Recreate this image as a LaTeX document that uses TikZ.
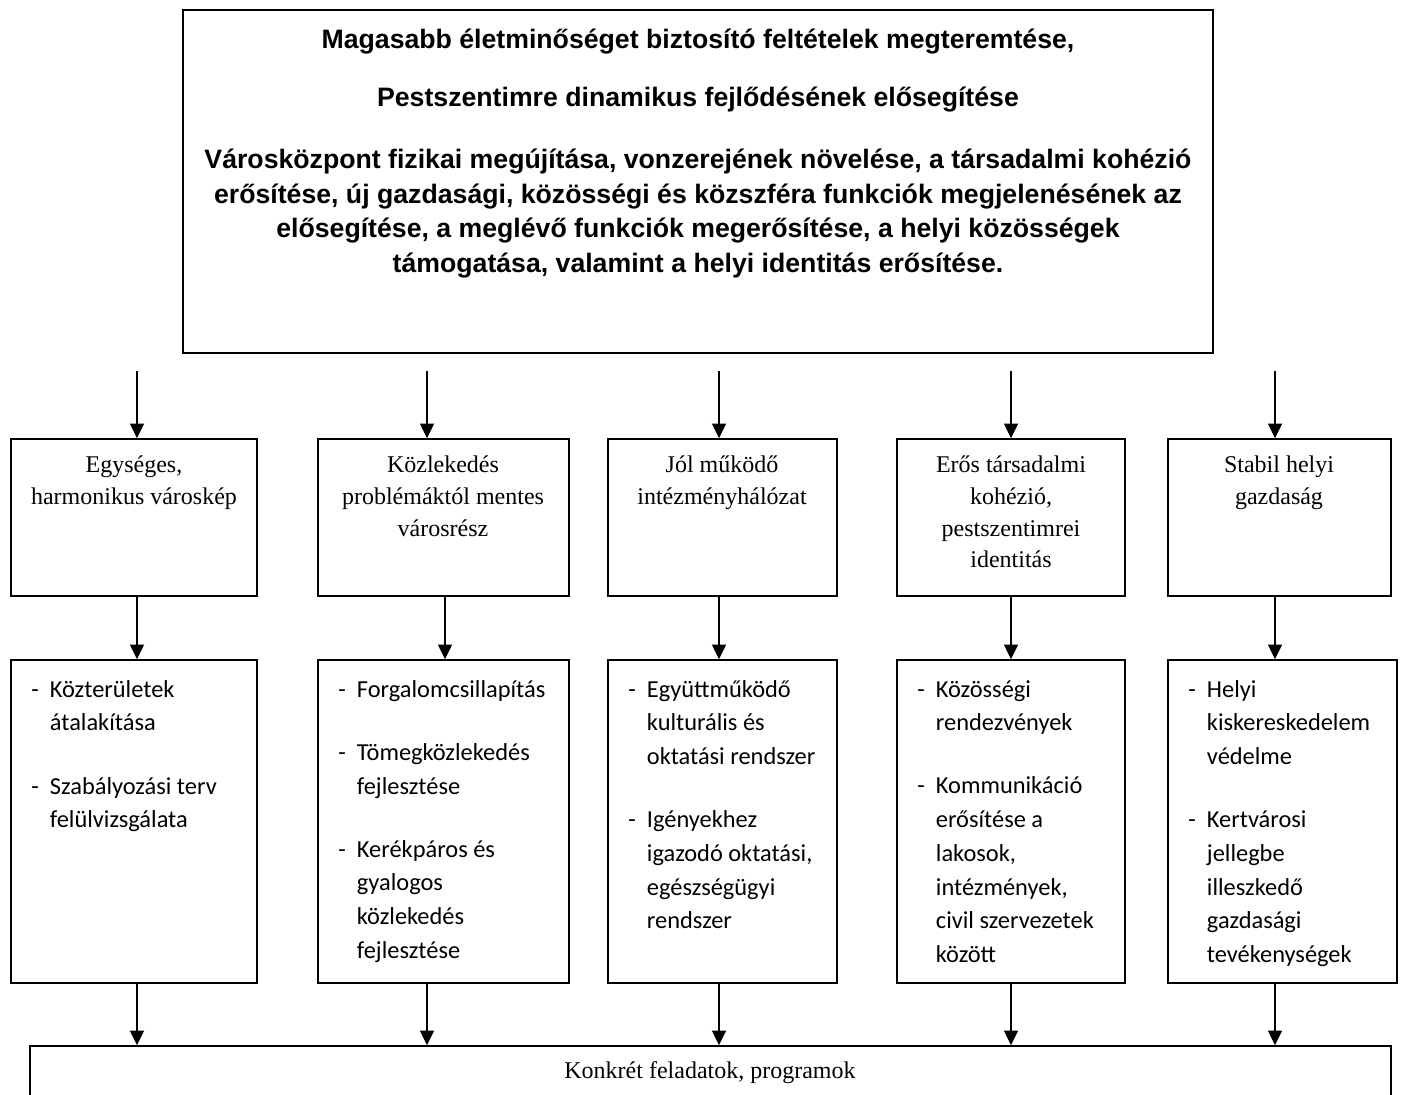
\documentclass[tikz,border=0pt]{standalone}
\usepackage{fontspec}
\setmainfont{Liberation Serif}
\newfontfamily\arialfont{Liberation Sans}
\newfontfamily\califont{Carlito}
\usetikzlibrary{arrows.meta,fit}
\newcommand\itmdash{\makebox[14pt][l]{-}}
\newcommand\itmind{\hspace*{14pt}}
\begin{document}
\begin{tikzpicture}[x=0.75pt,y=-0.75pt,
  box/.style={draw, line width=1.2pt, inner sep=0pt},
  arr/.style={line width=1.2pt, -{Triangle[width=10.5pt,length=11pt]}},
  ttl/.style={font=\arialfont\bfseries\fontsize{20}{25.8}\selectfont, align=center, inner sep=0pt},
  utext/.style={font=\fontsize{18}{23.7}\selectfont, align=center, inner sep=0pt},
  ltext/.style={font=\califont\fontsize{18.3}{25.3}\selectfont, align=left, inner sep=0pt},
]
\clip (0,0) rectangle (1403,1095);
% boxes
\node[box, fit={(183,10)(1213,353)}] (top) {};
\node[box, fit={(11,439)(257,596)}] (u1) {};
\node[box, fit={(318,439)(569,596)}] (u2) {};
\node[box, fit={(608,439)(837,596)}] (u3) {};
\node[box, fit={(897,439)(1125,596)}] (u4) {};
\node[box, fit={(1168,439)(1391,596)}] (u5) {};
\node[box, fit={(11,660)(257,983)}] (l1) {};
\node[box, fit={(318,660)(569,983)}] (l2) {};
\node[box, fit={(608,660)(837,983)}] (l3) {};
\node[box, fit={(897,660)(1125,983)}] (l4) {};
\node[box, fit={(1168,660)(1397,983)}] (l5) {};
\node[box, fit={(30,1046)(1391,1140)}] (bot) {};
% title text
\node[ttl, anchor=base] (t1) at (698,49) {Magasabb életminőséget biztosító feltételek megteremtése,};
\node[ttl, anchor=base] (t2) at (698,107) {Pestszentimre dinamikus fejlődésének elősegítése};
\node[ttl, anchor=north] (t3) at (698,149) {Városközpont fizikai megújítása, vonzerejének növelése, a társadalmi kohézió\\
erősítése, új gazdasági, közösségi és közszféra funkciók megjelenésének az\\
elősegítése, a meglévő funkciók megerősítése, a helyi közösségek\\
támogatása, valamint a helyi identitás erősítése.};
% upper texts
\node[utext, anchor=north] (u1t) at (134,456) {Egységes,\\harmonikus városkép};
\node[utext, anchor=north] (u2t) at (443,456) {Közlekedés\\problémáktól mentes\\városrész};
\node[utext, anchor=north] (u3t) at (722,456) {Jól működő\\intézményhálózat};
\node[utext, anchor=north] (u4t) at (1011,456) {Erős társadalmi\\kohézió,\\pestszentimrei\\identitás};
\node[utext, anchor=north] (u5t) at (1279,456) {Stabil helyi\\gazdaság};
% lower texts
\node[ltext, anchor=north west] (l1t) at (31,680) {\itmdash Közterületek\\ \itmind átalakítása\\[22pt]
\itmdash Szabályozási terv\\ \itmind felülvizsgálata};
\node[ltext, anchor=north west] (l2t) at (338,680) {\itmdash Forgalomcsillapítás\\[22pt]
\itmdash Tömegközlekedés\\ \itmind fejlesztése\\[22pt]
\itmdash Kerékpáros és\\ \itmind gyalogos\\ \itmind közlekedés\\ \itmind fejlesztése};
\node[ltext, anchor=north west] (l3t) at (628,680) {\itmdash Együttműködő\\ \itmind kulturális és\\ \itmind oktatási rendszer\\[22pt]
\itmdash Igényekhez\\ \itmind igazodó oktatási,\\ \itmind egészségügyi\\ \itmind rendszer};
\node[ltext, anchor=north west] (l4t) at (917,680) {\itmdash Közösségi\\ \itmind rendezvények\\[22pt]
\itmdash Kommunikáció\\ \itmind erősítése a\\ \itmind lakosok,\\ \itmind intézmények,\\ \itmind civil szervezetek\\ \itmind között};
\node[ltext, anchor=north west] (l5t) at (1188,680) {\itmdash Helyi\\ \itmind kiskereskedelem\\ \itmind védelme\\[22pt]
\itmdash Kertvárosi\\ \itmind jellegbe\\ \itmind illeszkedő\\ \itmind gazdasági\\ \itmind tevékenységek};
\node[utext, anchor=base] (bt) at (710,1078) {Konkrét feladatok, programok};
% arrow x positions
\coordinate (a1) at (137,0);
\coordinate (a2) at (427,0);
\coordinate (a2m) at (445,0);
\coordinate (a3) at (719,0);
\coordinate (a4) at (1011,0);
\coordinate (a5) at (1275,0);
% arrows top -> upper
\draw[arr, shorten <=12.75pt] (top.south -| a1) -- (u1.north -| a1);
\draw[arr, shorten <=12.75pt] (top.south -| a2) -- (u2.north -| a2);
\draw[arr, shorten <=12.75pt] (top.south -| a3) -- (u3.north -| a3);
\draw[arr, shorten <=12.75pt] (top.south -| a4) -- (u4.north -| a4);
\draw[arr, shorten <=12.75pt] (top.south -| a5) -- (u5.north -| a5);
% upper -> lower
\draw[arr] (u1.south -| a1) -- (l1.north -| a1);
\draw[arr] (u2.south -| a2m) -- (l2.north -| a2m);
\draw[arr] (u3.south -| a3) -- (l3.north -| a3);
\draw[arr] (u4.south -| a4) -- (l4.north -| a4);
\draw[arr] (u5.south -| a5) -- (l5.north -| a5);
% lower -> bottom
\draw[arr] (l1.south -| a1) -- (bot.north -| a1);
\draw[arr] (l2.south -| a2) -- (bot.north -| a2);
\draw[arr] (l3.south -| a3) -- (bot.north -| a3);
\draw[arr] (l4.south -| a4) -- (bot.north -| a4);
\draw[arr] (l5.south -| a5) -- (bot.north -| a5);
\end{tikzpicture}
\end{document}
